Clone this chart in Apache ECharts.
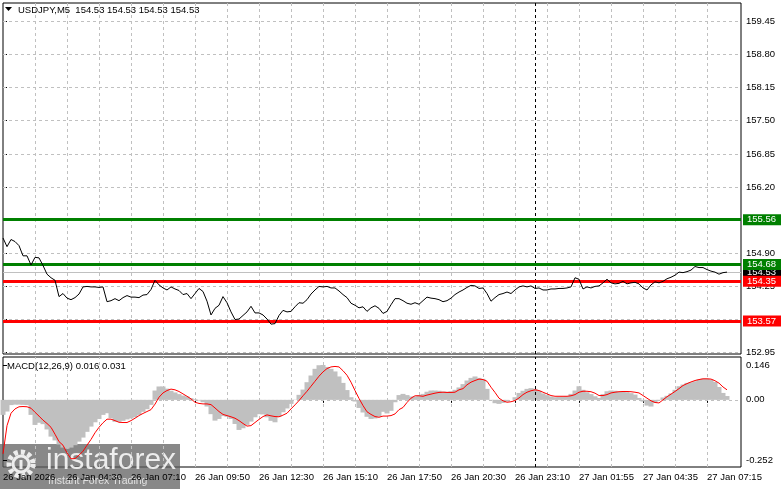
<!DOCTYPE html>
<html>
<head>
<meta charset="utf-8">
<script src="https://cdn.jsdelivr.net/npm/echarts@6/dist/echarts.min.js"></script>
<style>
html,body{margin:0;padding:0;background:#fff;}
#c{width:781px;height:489px;}
</style>
</head>
<body>
<div id="c"></div>
<script>
// ---- DATA (USDJPY M5, sampled every 2nd bar) ----
const symbolTitle = 'USDJPY,M5  154.53 154.53 154.53 154.53';
const macdTitle = 'MACD(12,26,9) 0.016 0.031';
const barStep = 2; // each value below is every 2nd M5 bar
const closePrices = [
155.20,155.03,155.17,155.13,155.05,154.85,154.85,154.67,154.82,154.81,
154.66,154.49,154.42,154.37,154.05,154.11,154.02,153.99,154.03,154.10,
154.24,154.25,154.24,154.24,154.23,154.24,153.95,153.97,154.01,153.97,
154.03,154.07,154.04,154.04,154.03,154.08,154.09,154.19,154.37,154.28,
154.22,154.18,154.24,154.20,154.17,154.09,154.11,154.01,154.11,154.21,
154.15,153.96,153.69,153.82,153.88,154.05,153.93,153.75,153.60,153.61,
153.68,153.75,153.86,153.73,153.73,153.69,153.61,153.51,153.52,153.68,
153.78,153.75,153.76,153.85,153.93,153.92,153.99,154.10,154.18,154.25,
154.24,154.25,154.22,154.22,154.16,154.09,154.03,153.92,153.88,153.83,
153.85,153.76,153.83,153.87,153.82,153.72,153.76,153.89,154.01,154.01,
153.97,153.92,153.90,153.93,153.90,153.97,154.04,154.02,154.01,153.99,
153.95,153.97,154.02,154.09,154.14,154.18,154.23,154.27,154.26,154.21,
154.22,154.11,153.96,154.03,154.09,154.11,154.14,154.11,154.18,154.24,
154.26,154.24,154.26,154.21,154.22,154.18,154.18,154.20,154.20,154.21,
154.21,154.22,154.24,154.42,154.39,154.20,154.24,154.22,154.25,154.26,
154.32,154.39,154.32,154.30,154.31,154.35,154.30,154.32,154.33,154.30,
154.22,154.18,154.28,154.34,154.32,154.35,154.40,154.43,154.47,154.53,
154.52,154.54,154.57,154.64,154.62,154.62,154.58,154.55,154.53,154.49,
154.52,154.53
];
const macdMain = [
-0.063,-0.049,-0.022,-0.020,-0.020,-0.021,-0.022,-0.063,-0.105,-0.096,
-0.102,-0.124,-0.154,-0.170,-0.187,-0.200,-0.205,-0.200,-0.190,-0.175,
-0.158,-0.134,-0.112,-0.094,-0.080,-0.063,-0.056,-0.077,-0.092,-0.092,
-0.088,-0.082,-0.078,-0.073,-0.063,-0.050,-0.039,-0.021,0.039,0.056,
0.056,0.047,0.038,0.031,0.024,0.018,0.014,0.007,0.003,-0.003,
-0.010,-0.028,-0.060,-0.087,-0.080,-0.068,-0.071,-0.080,-0.101,-0.126,
-0.119,-0.105,-0.091,-0.073,-0.060,-0.061,-0.073,-0.088,-0.094,-0.071,
-0.052,-0.036,-0.017,0.001,0.021,0.043,0.074,0.102,0.130,0.145,
0.146,0.138,0.130,0.119,0.098,0.071,0.041,0.011,-0.007,-0.034,
-0.053,-0.071,-0.080,-0.078,-0.071,-0.050,-0.057,-0.046,-0.010,0.020,
0.025,0.020,0.014,0.014,0.020,0.025,0.034,0.039,0.039,0.038,
0.035,0.034,0.036,0.042,0.052,0.066,0.081,0.092,0.098,0.092,
0.088,0.046,-0.001,-0.014,-0.017,-0.013,-0.007,0.000,0.011,0.029,
0.038,0.046,0.049,0.046,0.038,0.027,0.020,0.014,0.011,0.013,
0.014,0.015,0.025,0.039,0.057,0.042,0.032,0.024,0.015,0.008,
0.024,0.036,0.039,0.038,0.035,0.034,0.032,0.028,0.022,0.008,
-0.007,-0.024,-0.028,-0.013,0.001,0.010,0.017,0.027,0.042,0.057,
0.064,0.071,0.074,0.078,0.085,0.089,0.089,0.085,0.075,0.054,
0.029,0.016
];
const macdSignal = [
-0.226,-0.108,-0.056,-0.038,-0.029,-0.028,-0.029,-0.035,-0.052,-0.068,
-0.085,-0.099,-0.115,-0.144,-0.175,-0.190,-0.222,-0.247,-0.246,-0.232,
-0.215,-0.190,-0.166,-0.138,-0.115,-0.096,-0.081,-0.081,-0.087,-0.094,
-0.095,-0.095,-0.087,-0.077,-0.066,-0.057,-0.049,-0.041,-0.018,0.011,
0.029,0.039,0.045,0.042,0.035,0.025,0.015,0.004,-0.010,-0.015,
-0.017,-0.017,-0.020,-0.034,-0.049,-0.061,-0.066,-0.071,-0.077,-0.087,
-0.099,-0.110,-0.108,-0.095,-0.082,-0.070,-0.063,-0.067,-0.070,-0.071,
-0.064,-0.056,-0.038,-0.021,-0.003,0.017,0.036,0.057,0.078,0.099,
0.117,0.131,0.138,0.140,0.138,0.122,0.103,0.074,0.039,0.006,
-0.024,-0.050,-0.061,-0.070,-0.073,-0.068,-0.068,-0.066,-0.059,-0.041,
-0.032,-0.011,0.007,0.017,0.017,0.015,0.020,0.024,0.028,0.031,
0.032,0.031,0.031,0.032,0.042,0.047,0.063,0.074,0.081,0.087,
0.085,0.078,0.053,0.031,0.007,-0.004,-0.010,-0.008,-0.003,0.008,
0.022,0.032,0.038,0.042,0.039,0.032,0.025,0.018,0.015,0.015,
0.015,0.015,0.017,0.022,0.032,0.036,0.036,0.034,0.028,0.018,
0.018,0.022,0.029,0.032,0.034,0.035,0.035,0.034,0.032,0.029,
0.018,0.007,-0.004,-0.011,-0.013,0.000,0.013,0.024,0.035,0.047,
0.060,0.068,0.075,0.081,0.085,0.088,0.088,0.087,0.080,0.070,
0.054,0.042
];
const timeLabels = ['26 Jan 2026','26 Jan 04:30','26 Jan 07:10','26 Jan 09:50','26 Jan 12:30','26 Jan 15:10',
  '26 Jan 17:50','26 Jan 20:30','26 Jan 23:10','27 Jan 01:55','27 Jan 04:35','27 Jan 07:15'];
const barsPerLabel = 32;
const daySeparatorBar = 266; // 27 Jan 00:00
const priceTicks = [152.95,153.60,154.25,154.90,155.55,156.20,156.85,157.50,158.15,158.80,159.45];
const macdTicks = [0.146, 0, -0.252];
const levelValues = [155.56, 154.68, 154.35, 153.57];
const levelKinds = ['buy','buy','sell','sell'];

// ---- CHART ----
const FONT = 'Liberation Sans';
const FS = 9.5;
const GRIDC = '#c0c0c0';
const DASH = [3,3];
const totalBars = 369;
const labelBars = timeLabels.map((_, j) => j * barsPerLabel);
const vGrid = [];
for (let i = 16; i <= 352; i += 16) vGrid.push({xAxis: i});
const lastPrice = closePrices[closePrices.length - 1];

const pricePts = closePrices.map((v, k) => [k * barStep, v]);
const mainPts = macdMain.map((v, k) => [k * barStep, v]);
const sigPts = macdSignal.map((v, k) => [k * barStep, v]);

const levelColor = {buy: '#008000', sell: '#ff0000'};
const tagLabel = {
  show: true, position: 'end', distance: 2, color: '#fff', fontFamily: FONT, fontSize: FS,
  padding: [1, 6, 0, 4], lineHeight: 10, formatter: p => Number(p.value).toFixed(2)
};

const chart = echarts.init(document.getElementById('c'));
chart.setOption({
  animation: false,
  backgroundColor: '#fff',
  textStyle: {fontFamily: FONT},
  grid: [
    {left: 3, top: 3, width: 738, height: 351, show: true, borderColor: '#000', borderWidth: 1, backgroundColor: 'transparent'},
    {left: 3, top: 357, width: 738, height: 110, show: true, borderColor: '#000', borderWidth: 1, backgroundColor: 'transparent'}
  ],
  xAxis: [
    {type: 'value', gridIndex: 0, min: 0, max: totalBars, axisLine: {show: false}, axisTick: {show: false},
      axisLabel: {show: false}, splitLine: {show: false}},
    {type: 'value', gridIndex: 1, min: 0, max: totalBars, axisLine: {show: false},
      axisTick: {show: true, customValues: labelBars, length: 3, lineStyle: {color: '#000'}},
      axisLabel: {customValues: labelBars, formatter: v => timeLabels[Math.round(v / barsPerLabel)] || '',
        align: 'left', margin: 5, fontSize: FS, color: '#000', fontFamily: FONT},
      splitLine: {show: false}}
  ],
  yAxis: [
    {type: 'value', gridIndex: 0, position: 'right', min: 152.924, max: 159.81, axisLine: {show: false},
      axisTick: {show: true, customValues: priceTicks, length: 4, lineStyle: {color: '#000'}},
      axisLabel: {customValues: priceTicks, formatter: v => v.toFixed(2), margin: 5, fontSize: FS, color: '#000', fontFamily: FONT},
      splitLine: {show: false}},
    {type: 'value', gridIndex: 1, position: 'right', min: -0.2813, max: 0.1795, axisLine: {show: false},
      axisTick: {show: true, customValues: macdTicks, length: 4, lineStyle: {color: '#000'}},
      axisLabel: {customValues: macdTicks, formatter: v => (v === 0 ? '0.00' : v.toFixed(3)), margin: 5, fontSize: FS, color: '#000', fontFamily: FONT},
      splitLine: {show: false}}
  ],
  series: [
    {type: 'line', xAxisIndex: 0, yAxisIndex: 0, data: [], silent: true, z: 1, clip: false,
      markLine: {symbol: ['none', 'none'], silent: true, label: {show: false},
        lineStyle: {color: GRIDC, type: DASH, width: 1},
        data: vGrid.concat(priceTicks.map(v => ({yAxis: v})))}},
    {type: 'line', xAxisIndex: 1, yAxisIndex: 1, data: [], silent: true, z: 1, clip: false,
      markLine: {symbol: ['none', 'none'], silent: true, label: {show: false},
        lineStyle: {color: GRIDC, type: DASH, width: 1},
        data: vGrid.concat([{yAxis: 0}])}},
    {type: 'line', xAxisIndex: 0, yAxisIndex: 0, data: [], silent: true, z: 2,
      markLine: {symbol: ['none', 'none'], silent: true, label: {show: false},
        lineStyle: {color: '#000', type: DASH, width: 1}, data: [{xAxis: daySeparatorBar}]}},
    {type: 'line', xAxisIndex: 1, yAxisIndex: 1, data: [], silent: true, z: 2,
      markLine: {symbol: ['none', 'none'], silent: true, label: {show: false},
        lineStyle: {color: '#000', type: DASH, width: 1}, data: [{xAxis: daySeparatorBar}]}},
    {type: 'line', xAxisIndex: 0, yAxisIndex: 0, data: [], silent: true, z: 3, clip: false,
      markLine: {symbol: ['none', 'none'], silent: true,
        data: [{yAxis: lastPrice, lineStyle: {color: GRIDC, width: 1, type: 'solid'},
          label: Object.assign({}, tagLabel, {backgroundColor: '#000'})}]}},
    {type: 'line', xAxisIndex: 0, yAxisIndex: 0, data: [], silent: true, z: 4, clip: false,
      markLine: {symbol: ['none', 'none'], silent: true,
        data: levelValues.map((v, i) => ({
          yAxis: v,
          lineStyle: {color: levelColor[levelKinds[i]], width: 3, type: 'solid'},
          label: Object.assign({}, tagLabel, {backgroundColor: levelColor[levelKinds[i]]})
        }))}},
    {type: 'line', xAxisIndex: 0, yAxisIndex: 0, data: pricePts, showSymbol: false, symbol: 'none', z: 5,
      lineStyle: {color: '#000', width: 1}},
    {type: 'bar', xAxisIndex: 1, yAxisIndex: 1, data: mainPts, barWidth: 5, z: 3,
      itemStyle: {color: '#c0c0c0'}},
    {type: 'line', xAxisIndex: 1, yAxisIndex: 1, data: sigPts, showSymbol: false, symbol: 'none', z: 5,
      lineStyle: {color: '#ff0000', width: 1}}
  ],
  graphic: [
    {type: 'polygon', shape: {points: [[5, 7], [12, 7], [8.5, 11]]}, style: {fill: '#000'}, z: 100},
    {type: 'text', x: 18, y: 10, style: {text: symbolTitle, fontFamily: FONT, fontSize: FS, fill: '#000', verticalAlign: 'middle'}, z: 100},
    {type: 'text', x: 7, y: 366, style: {text: macdTitle, fontFamily: FONT, fontSize: FS, fill: '#000', verticalAlign: 'middle'}, z: 100},
    {type: 'group', z: 200, children: [
      {type: 'rect', shape: {x: 0, y: 444, width: 180, height: 45}, style: {fill: 'rgba(95,95,95,0.74)'}},
      {type: 'circle', shape: {cx: 21, cy: 464, r: 12}, style: {fill: 'none', stroke: 'rgba(255,255,255,0.85)', lineWidth: 5, lineDash: [4, 3]}},
      {type: 'circle', shape: {cx: 21, cy: 464, r: 8}, style: {fill: 'none', stroke: 'rgba(255,255,255,0.85)', lineWidth: 3}},
      {type: 'rect', shape: {x: 19.5, y: 460, width: 3, height: 9}, style: {fill: 'rgba(255,255,255,0.85)'}},
      {type: 'text', x: 46, y: 461, style: {text: 'instaforex', fontFamily: FONT, fontSize: 30, fill: 'rgba(255,255,255,0.85)', verticalAlign: 'middle'}},
      {type: 'text', x: 48, y: 481, style: {text: 'Instant Forex Trading', fontFamily: FONT, fontSize: 10.5, fill: 'rgba(255,255,255,0.75)', verticalAlign: 'middle'}}
    ]}
  ]
});
</script>
</body>
</html>
